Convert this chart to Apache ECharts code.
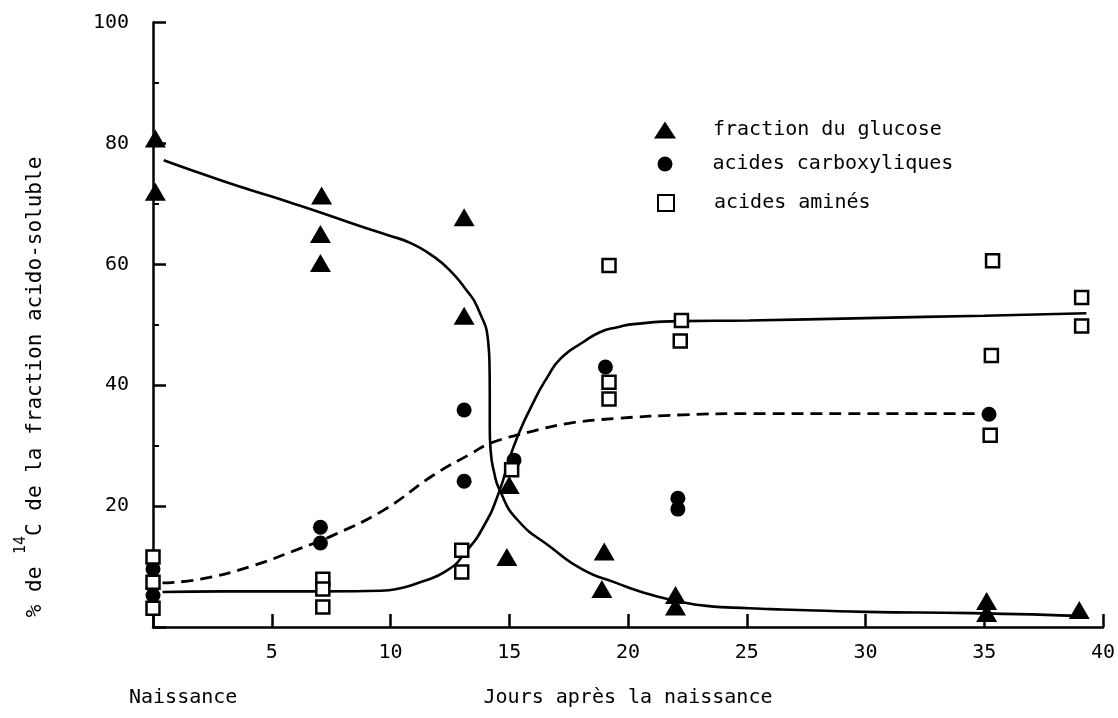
<!DOCTYPE html>
<html><head><meta charset="utf-8">
<script src="https://cdn.jsdelivr.net/npm/echarts/dist/echarts.min.js"></script>
<style>html,body{margin:0;padding:0;background:#fff}#c{width:1118px;height:718px}</style>
</head><body><div id="c"></div>
<script>
const FONT = '"DejaVu Sans Mono", "Liberation Mono", monospace';

// Series names (legend)
const seriesNames = ['fraction du glucose', 'acides carboxyliques', 'acides aminés'];

// Measured points [day, %]
const glucosePoints = [
  [0.1, 80.8], [0.1, 72.0],
  [7.1, 71.4], [7.05, 65.0], [7.05, 60.2],
  [13.1, 67.8], [13.1, 51.5],
  [15.0, 23.5], [14.9, 11.6],
  [19.0, 12.5], [18.9, 6.3],
  [22.0, 5.3], [22.0, 3.4],
  [35.1, 4.3], [35.1, 2.3],
  [39.0, 2.8]
];
const carboxyPoints = [
  [0.0, 9.6], [0.0, 5.2],
  [7.05, 16.5], [7.05, 13.9],
  [13.1, 35.9], [13.1, 24.1],
  [15.2, 27.6],
  [19.05, 43.0],
  [22.1, 21.3], [22.1, 19.5],
  [35.2, 35.2]
];
const aminePoints = [
  [0.0, 11.6], [0.0, 7.4], [0.0, 3.1],
  [7.15, 7.9], [7.15, 6.3], [7.15, 3.3],
  [13.0, 12.7], [13.0, 9.1],
  [15.1, 26.0],
  [19.2, 59.8], [19.2, 40.5], [19.2, 37.7],
  [22.25, 50.7], [22.2, 47.3],
  [35.35, 60.6], [35.3, 44.9], [35.25, 31.7],
  [39.1, 54.5], [39.1, 49.8]
];

// Hand-drawn fitted curves
const glucoseCurve = [
  [0.45, 77.2], [3.0, 73.7], [5.0, 71.2], [6.8, 68.9], [8.8, 66.2], [9.9, 64.8], [10.85, 63.5],
  [11.8, 61.3], [12.5, 59.0], [13.2, 55.7], [13.66, 52.9], [14.12, 46.9], [14.17, 43.0],
  [14.18, 38.0], [14.18, 33.0], [14.22, 29.0], [14.35, 25.8], [14.6, 22.6], [15.35, 17.7],
  [16.75, 13.2], [18.1, 9.5], [19.5, 7.3], [20.9, 5.4], [22.3, 4.1],
  [23.3, 3.5], [25.1, 3.1], [26.5, 2.9], [30.0, 2.5], [34.5, 2.3], [39.3, 1.8]
];
const amineCurve = [
  [0.4, 5.8], [3.0, 5.9], [6.8, 5.9], [9.6, 6.0], [10.5, 6.5], [11.1, 7.2], [12.4, 9.4],
  [13.2, 12.6], [13.9, 16.5], [14.55, 22.1], [15.18, 29.8], [16.02, 37.2], [16.6, 41.3],
  [17.16, 44.4], [18.1, 47.1], [18.84, 48.8], [19.55, 49.6], [20.23, 50.1], [22.2, 50.6],
  [25.1, 50.7], [30.0, 51.1], [35.0, 51.5], [39.3, 51.9]
];
const carboxyCurve = [
  [0.4, 7.3], [2.0, 7.9], [4.1, 10.0], [6.2, 13.0], [7.6, 15.2], [9.7, 19.3],
  [11.8, 25.1], [13.4, 28.7], [14.2, 30.4], [16.0, 32.4], [17.5, 33.7], [19.5, 34.5],
  [22.3, 35.1], [25.1, 35.3], [30.0, 35.3], [34.8, 35.3]
];

// Axis ranges / tick steps
const xRange = [0, 40], xStep = 5;
const yRange = [0, 100], yStep = 20;

const textBase = { fontFamily: FONT, fontSize: 20, color: '#000' };

const chart = echarts.init(document.getElementById('c'), null, { renderer: 'canvas' });

function legendFor(name, icon, left, top, w, h, padLeft) {
  return {
    data: [{ name: name, icon: icon }],
    left: left, top: top, orient: 'vertical', padding: 0,
    itemWidth: w, itemHeight: h, selectedMode: false,
    textStyle: Object.assign({}, textBase, { lineHeight: 24, padding: [0, 0, 0, padLeft] })
  };
}

chart.setOption({
  animation: false,
  backgroundColor: '#fff',
  grid: { left: 153, right: 15, top: 22.5, bottom: 91, containLabel: false, outerBoundsMode: 'none' },
  xAxis: {
    type: 'value', min: xRange[0], max: xRange[1], interval: xStep,
    name: 'Jours après la naissance', nameLocation: 'middle', nameGap: 61,
    nameTextStyle: textBase,
    axisLine: { show: true, lineStyle: { color: '#000', width: 2.5 } },
    axisTick: { show: true, inside: true, length: 13, lineStyle: { color: '#000', width: 2.5 } },
    axisLabel: Object.assign({}, textBase, { margin: 16, formatter: v => (v === 0 ? '' : String(v)) }),
    splitLine: { show: false }
  },
  yAxis: {
    type: 'value', min: yRange[0], max: yRange[1], interval: yStep,
    axisLine: { show: true, lineStyle: { color: '#000', width: 2.5 } },
    axisTick: { show: true, inside: true, length: 13, lineStyle: { color: '#000', width: 2.5 } },
    minorTick: { show: true, splitNumber: 2, length: 6, lineStyle: { color: '#000', width: 2 } },
    axisLabel: Object.assign({}, textBase, { margin: 24, formatter: v => (v === 0 ? '' : String(v)) }),
    splitLine: { show: false }, minorSplitLine: { show: false }
  },
  legend: [
    legendFor(seriesNames[0], 'triangle', 654, 118, 22, 17, 32),
    legendFor(seriesNames[1], 'circle', 657.5, 152, 15, 15, 35),
    legendFor(seriesNames[2], 'rect', 657, 191, 16, 16, 35)
  ],
  graphic: [
    {
      type: 'text', x: 36, y: 387, rotation: Math.PI / 2, silent: true,
      style: {
        text: '% de {sup|14}C de la fraction acido-soluble',
        font: '21px ' + FONT, fill: '#000', align: 'center', verticalAlign: 'middle',
        lineHeight: 44,
        rich: { sup: { fontSize: 15, fontFamily: FONT, lineHeight: 15, verticalAlign: 'top', fill: '#000' } }
      }
    },
    {
      type: 'text', x: 129, y: 698, silent: true,
      style: { text: 'Naissance', font: '20px ' + FONT, fill: '#000', align: 'left', verticalAlign: 'middle' }
    }
  ],
  series: [
    { name: 'courbe glucose', type: 'line', data: glucoseCurve, symbol: 'none', smooth: 0.55, z: 2, silent: true,
      lineStyle: { color: '#000', width: 2.6 } },
    { name: 'courbe aminés', type: 'line', data: amineCurve, symbol: 'none', smooth: 0.55, z: 2, silent: true,
      lineStyle: { color: '#000', width: 2.6 } },
    { name: 'courbe carboxyliques', type: 'line', data: carboxyCurve, symbol: 'none', smooth: 0.45, z: 2, silent: true,
      lineStyle: { color: '#000', width: 2.8, type: [12, 7] } },
    { name: seriesNames[0], type: 'scatter', data: glucosePoints, symbol: 'triangle', symbolSize: [21, 18], z: 4,
      itemStyle: { color: '#000', borderColor: '#000', borderWidth: 0, opacity: 1 } },
    { name: seriesNames[1], type: 'scatter', data: carboxyPoints, symbol: 'circle', symbolSize: 15, z: 4,
      itemStyle: { color: '#000', borderColor: '#000', borderWidth: 0, opacity: 1 } },
    { name: seriesNames[2], type: 'scatter', data: aminePoints, symbol: 'rect', symbolSize: 13, z: 5,
      itemStyle: { color: '#fff', borderColor: '#000', borderWidth: 2.5, opacity: 1 } }
  ]
});
</script>
</body></html>
